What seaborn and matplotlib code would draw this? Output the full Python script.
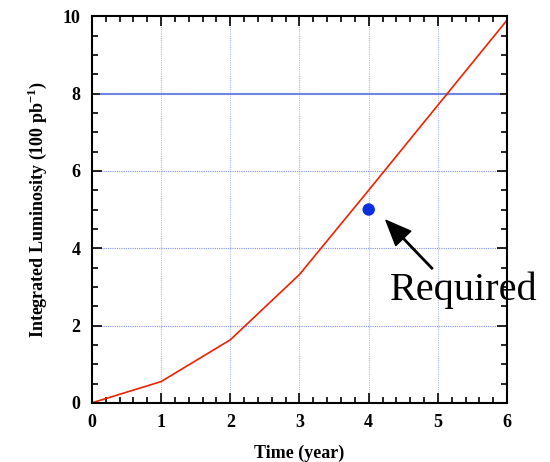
import matplotlib
matplotlib.use("Agg")
import matplotlib.pyplot as plt
import seaborn as sns
import pandas as pd
from matplotlib.ticker import MultipleLocator

# data
years = [0, 1, 2, 3, 4, 5, 6]
lumi = [0.0, 0.55, 1.63, 3.32, 5.5, 7.7, 9.9]
req_year = [4]
req_lumi = [5.0]
target = 8.0

sns.set_style("ticks")
plt.rcParams['font.family'] = ['Liberation Serif', 'DejaVu Serif']
plt.rcParams['text.color'] = 'black'
plt.rcParams['axes.labelcolor'] = 'black'
plt.rcParams['xtick.color'] = 'black'
plt.rcParams['ytick.color'] = 'black'
plt.rcParams['axes.edgecolor'] = 'black'
plt.rcParams['mathtext.fontset'] = 'custom'
plt.rcParams['mathtext.rm'] = 'Liberation Serif'
plt.rcParams['mathtext.bf'] = 'Liberation Serif:bold'

df = pd.DataFrame({"year": years, "lumi": lumi})
req = pd.DataFrame({"year": req_year, "lumi": req_lumi})

fig = plt.figure(figsize=(5.5, 4.62), dpi=100)
ax = fig.add_axes([0.167, 0.128, 0.755, 0.837])

# grid
for x in range(1, 6):
    ax.axvline(x, color="#b0b8f4", lw=0.8, ls=(0, (1, 1)), zorder=0)
for y in [2, 4, 6]:
    ax.axhline(y, color="#8090e8", lw=0.8, ls=(0, (1, 1)), zorder=0)
ax.hlines(target, 0.12, 5.9, color="#6f86e8", lw=1.5, zorder=1)

sns.lineplot(data=df, x="year", y="lumi", color="#ee2200", lw=1.2, ax=ax)
sns.scatterplot(data=req, x="year", y="lumi", color="#0a2ee0", s=80,
                edgecolor="none", ax=ax, zorder=3)

ax.annotate("", xy=(4.25, 4.72), xytext=(4.92, 3.47),
            arrowprops=dict(facecolor="black", edgecolor="black",
                            width=1, headwidth=15, headlength=18, shrink=0.0))
ax.text(5.37, 2.9, "Required", fontsize=29, ha="center", va="center",
        color="black")

ax.set_xlim(0, 6)
ax.set_ylim(0, 10)
ax.xaxis.set_major_locator(MultipleLocator(1))
ax.xaxis.set_minor_locator(MultipleLocator(0.2))
ax.yaxis.set_major_locator(MultipleLocator(2))
ax.yaxis.set_minor_locator(MultipleLocator(0.5))
ax.tick_params(which="both", direction="in", top=True, right=True, width=1.2)
ax.tick_params(which="major", length=7, labelsize=13, pad=8)
ax.tick_params(which="minor", length=4)
for lab in ax.get_xticklabels() + ax.get_yticklabels():
    lab.set_fontweight("bold")
for s in ax.spines.values():
    s.set_linewidth(1.5)

ax.set_xlabel("Time (year)", fontsize=13, fontweight="bold", labelpad=10)
ax.set_ylabel("Integrated Luminosity (100 pb$^{\\mathbf{-1}}$)", fontsize=13,
              fontweight="bold", labelpad=10)

fig.savefig("out.png", dpi=100)
